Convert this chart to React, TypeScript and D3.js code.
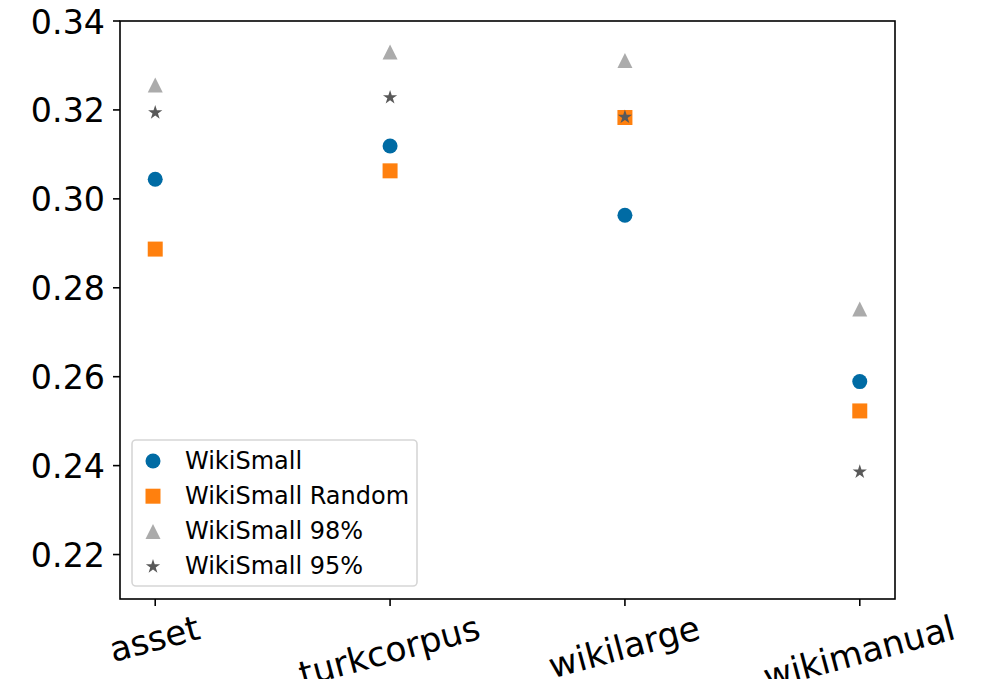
import React, { useEffect, useRef } from 'react';
import * as d3 from 'd3';

// datasets on the x axis
const categories = ['asset', 'turkcorpus', 'wikilarge', 'wikimanual'];

// scores, one per dataset
const wikiSmall = [0.3044, 0.3119, 0.2963, 0.2589];
const wikiSmallRandom = [0.2887, 0.3063, 0.3183, 0.2523];
const wikiSmall98 = [0.3256, 0.3330, 0.3311, 0.2752];
const wikiSmall95 = [0.3194, 0.3228, 0.3184, 0.2386];

const seriesNames = ['WikiSmall', 'WikiSmall Random', 'WikiSmall 98%', 'WikiSmall 95%'];
const yTicks = [0.22, 0.24, 0.26, 0.28, 0.30, 0.32, 0.34];

const W = 995;
const H = 679;
const FONT = 'DejaVu Sans, sans-serif';

function markerPath(kind: string, s: number): string {
  const r = s / 2;
  if (kind === 'circle') {
    return `M${r},0A${r},${r} 0 1,1 ${-r},0A${r},${r} 0 1,1 ${r},0Z`;
  }
  if (kind === 'square') {
    return `M${-r},${-r}H${r}V${r}H${-r}Z`;
  }
  if (kind === 'triangle') {
    return `M0,${-r}L${r},${r}L${-r},${r}Z`;
  }
  // five pointed star, matplotlib proportions
  const R = r;
  const ri = R * 0.381966;
  const pts: string[] = [];
  for (let i = 0; i < 10; i++) {
    const a = (Math.PI / 5) * i - Math.PI / 2;
    const rr = i % 2 === 0 ? R : ri;
    pts.push(`${(Math.cos(a) * rr).toFixed(2)},${(Math.sin(a) * rr).toFixed(2)}`);
  }
  return 'M' + pts.join('L') + 'Z';
}

function Chart() {
  const ref = useRef<SVGSVGElement>(null);

  useEffect(() => {
    const svg = d3.select(ref.current);
    svg.selectAll('*').remove();

    const left = 120, right = 895, top = 21, bottom = 599;

    const x = d3.scaleLinear().domain([-0.15, 3.15]).range([left, right]);
    const y = d3.scaleLinear().domain([0.21, 0.34]).range([bottom, top]);

    const series = [
      { name: seriesNames[0], values: wikiSmall, color: '#006BA4', kind: 'circle', size: 15 },
      { name: seriesNames[1], values: wikiSmallRandom, color: '#FF800E', kind: 'square', size: 15 },
      { name: seriesNames[2], values: wikiSmall98, color: '#ABABAB', kind: 'triangle', size: 15 },
      { name: seriesNames[3], values: wikiSmall95, color: '#595959', kind: 'star', size: 15 },
    ];

    // points
    series.forEach(s => {
      svg.append('g')
        .selectAll('path')
        .data(s.values)
        .enter()
        .append('path')
        .attr('d', markerPath(s.kind, s.size))
        .attr('transform', (d, i) => `translate(${x(i)},${y(d)})`)
        .attr('fill', s.color);
    });

    // frame
    svg.append('rect')
      .attr('x', left)
      .attr('y', top)
      .attr('width', right - left)
      .attr('height', bottom - top)
      .attr('fill', 'none')
      .attr('stroke', '#000')
      .attr('stroke-width', 1.6);

    // y axis
    const yg = svg.append('g');
    yTicks.forEach(t => {
      yg.append('line')
        .attr('x1', left - 7).attr('x2', left)
        .attr('y1', y(t)).attr('y2', y(t))
        .attr('stroke', '#000').attr('stroke-width', 1.6);
      yg.append('text')
        .attr('x', left - 15)
        .attr('y', y(t) + 12.5)
        .attr('text-anchor', 'end')
        .attr('font-family', FONT)
        .attr('font-size', 33.3)
        .text(d3.format('.2f')(t));
    });

    // x axis with rotated labels
    const angle = 15;
    const rad = (angle * Math.PI) / 180;
    const fs = 34.5;
    const boxH = fs * 1.0;
    const desc = fs * 0.236;
    const xg = svg.append('g');
    categories.forEach((c, i) => {
      xg.append('line')
        .attr('x1', x(i)).attr('x2', x(i))
        .attr('y1', bottom).attr('y2', bottom + 7)
        .attr('stroke', '#000').attr('stroke-width', 1.6);
      const g = xg.append('g');
      const t = g.append('text')
        .attr('text-anchor', 'middle')
        .attr('font-family', FONT)
        .attr('font-size', fs)
        .attr('y', boxH / 2 - desc)
        .text(c);
      const w = (t.node() as SVGTextElement).getComputedTextLength();
      const rotH = w * Math.sin(rad) + boxH * Math.cos(rad);
      g.attr('transform', `translate(${x(i)},${bottom + 14 + rotH / 2}) rotate(${-angle})`);
    });

    // legend
    const lg = svg.append('g');
    lg.append('rect')
      .attr('x', 132).attr('y', 440)
      .attr('width', 285).attr('height', 146)
      .attr('rx', 4)
      .attr('fill', 'rgba(255,255,255,0.8)')
      .attr('stroke', '#d6d6d6')
      .attr('stroke-width', 1.6);
    series.forEach((s, i) => {
      const cy = 461 + i * 35.2;
      lg.append('path')
        .attr('d', markerPath(s.kind, s.size))
        .attr('transform', `translate(153,${cy})`)
        .attr('fill', s.color);
      lg.append('text')
        .attr('x', 185)
        .attr('y', cy + 7.5)
        .attr('font-family', FONT)
        .attr('font-size', 24)
        .text(s.name);
    });
  }, []);

  return <svg ref={ref} width={W} height={H} style={{ position: 'absolute', left: 0, top: 0, background: '#fff' }} />;
}

export default function App() {
  return <Chart />;
}
